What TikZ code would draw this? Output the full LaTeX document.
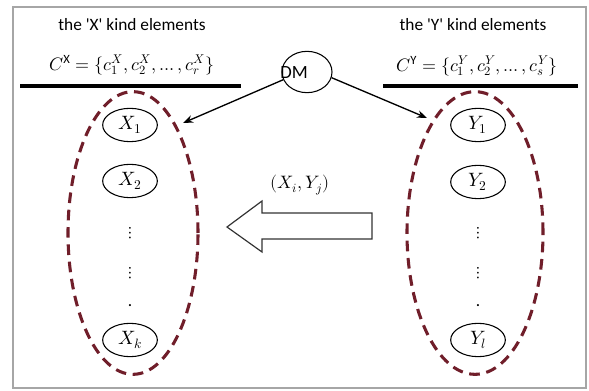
\documentclass[tikz,border=0pt]{standalone}
\usepackage{amsmath}
\usepackage{fontspec}
\usepackage{unicode-math}
\setmainfont{Carlito}[Ligatures=TeXOff]
\setmathfont{Latin Modern Math}
\usepackage{tikz}
\usetikzlibrary{arrows.meta,positioning,shapes.geometric}
\definecolor{groupred}{RGB}{112,30,42}

\begin{document}
\begin{tikzpicture}[
		x=0.75pt,y=-0.75pt,
		>=Stealth,
		every node/.style={font=\fontsize{13}{15}\selectfont},
		setlabel/.style={font=\fontsize{13.5}{16}\selectfont},
		elem/.style={draw, ellipse, line width=0.8pt, minimum width=41pt, minimum height=25pt, inner sep=0pt, font=\fontsize{14.5}{17}\selectfont},
		group/.style={draw=groupred, ellipse, dash pattern=on 8pt off 5pt, line width=2.3pt, minimum height=212pt, inner sep=0pt},
		rule/.style={line width=2.6pt}
		]
		
		\useasboundingbox (0,0) rectangle (589,391);
		
		% outer frame
		\draw[gray!70, line width=1pt] (13,7) rectangle (586,388);
		
		% =========================
		% Headers
		% =========================
		\node (xtitle) at (132,25) {the 'X' kind elements};
		\node[setlabel] (xset) at (132,65) {$C^{\mathrm{X}} = \{c_1^X, c_2^X, \ldots, c_r^X\}$};
		\draw[rule] (20,86) -- (241,86);
		
		\node (ytitle) at (473,25) {the 'Y' kind elements};
		\node[setlabel] (yset) at (477,66) {$C^{\mathrm{Y}} = \{c_1^Y, c_2^Y, \ldots, c_s^Y\}$};
		\draw[rule] (383,86) -- (578,86);
		
		% =========================
		% Left: X elements
		% =========================
		\node[group, minimum width=97.5pt] (xgroup) at (133,233) {};
		\node[elem] (x1) at (130,125) {$X_1$};
		\node[elem] (x2) at (130,181) {$X_2$};
		\node (xdots1) at (130,233) {$\vdots$};
		\node (xdots2) at (130,273) {$\vdots$};
		\node (xdot) at (130,306) {.};
		\node[elem] (xk) at (130,340) {$X_k$};
		
		% =========================
		% Right: Y elements
		% =========================
		\node[group, minimum width=102pt] (ygroup) at (475,233) {};
		\node[elem] (y1) at (478,125) {$Y_1$};
		\node[elem] (y2) at (478,182) {$Y_2$};
		\node (ydots1) at (478,233) {$\vdots$};
		\node (ydots2) at (478,273) {$\vdots$};
		\node (ydot) at (478,306) {.};
		\node[elem] (yl) at (478,340) {$Y_l$};
		
		% =========================
		% Middle: DM and the pair arrow
		% =========================
		\node[draw, ellipse, line width=0.8pt, minimum width=37.5pt, minimum height=31pt, inner sep=0pt] (dm) at (307,72) {};
		\node[font=\fontsize{14}{16}\selectfont] (dmtext) at (294,73) {DM};
		
		\coordinate (xin) at (183,123);
		\coordinate (yin) at (427,118);
		\draw[->, line width=1pt] (dm.198) -- (xin);
		\draw[->, line width=1pt] (dm.347) -- (yin);
		
		\node[setlabel] (pair) at (300,185) {$(X_i, Y_j)$};
		\draw[gray!40!black, line width=0.9pt] (372,213) -- (262,213) -- (262,201) -- (227,227)
		-- (262,252) -- (262,239) -- (372,239) -- cycle;
		
	\end{tikzpicture}
\end{document}
